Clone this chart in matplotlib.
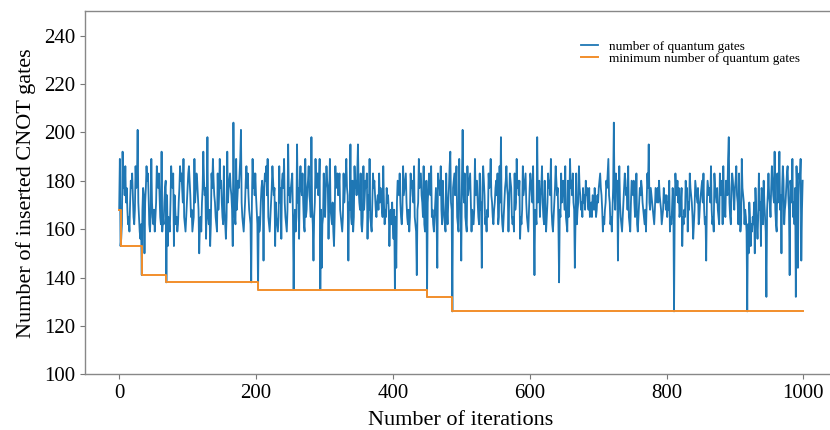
import numpy as np
import matplotlib
matplotlib.use("Agg")
import matplotlib.pyplot as plt

# number of quantum gates per iteration (40 rows x 25)
gates = [
    168, 189, 153, 156, 162, 192, 177, 183, 174, 186, 171, 177, 168, 162, 165, 159, 171, 180, 177, 183, 174, 165, 162, 168, 186,
    177, 180, 201, 171, 165, 159, 156, 162, 141, 168, 177, 174, 150, 171, 177, 186, 180, 183, 174, 162, 159, 165, 189, 171, 165,
    162, 168, 159, 165, 171, 186, 180, 177, 183, 174, 165, 162, 192, 159, 165, 162, 171, 177, 180, 138, 174, 153, 165, 162, 159,
    171, 186, 180, 177, 183, 153, 174, 168, 162, 165, 159, 162, 171, 177, 186, 180, 183, 177, 171, 189, 165, 162, 159, 165, 171,
    177, 183, 186, 180, 174, 165, 168, 159, 162, 165, 189, 171, 177, 183, 180, 174, 168, 150, 162, 165, 159, 171, 177, 192, 180,
    174, 177, 156, 171, 198, 165, 162, 168, 153, 162, 183, 177, 189, 180, 174, 171, 165, 162, 159, 183, 168, 174, 189, 177, 180,
    171, 165, 162, 186, 168, 162, 156, 165, 192, 171, 177, 180, 183, 177, 174, 168, 153, 204, 171, 165, 162, 189, 168, 174, 180,
    177, 183, 189, 201, 171, 165, 162, 159, 165, 171, 180, 186, 177, 183, 174, 168, 165, 162, 138, 171, 189, 177, 183, 174, 183,
    174, 168, 162, 135, 165, 159, 162, 171, 177, 180, 174, 147, 177, 183, 180, 186, 174, 189, 165, 162, 159, 165, 171, 177, 186,
    180, 174, 177, 153, 171, 165, 162, 159, 165, 186, 171, 177, 156, 180, 183, 177, 189, 171, 165, 162, 159, 168, 195, 174, 177,
    171, 177, 180, 183, 165, 135, 162, 168, 159, 165, 195, 171, 177, 156, 180, 186, 177, 174, 183, 171, 162, 159, 189, 165, 168,
    177, 180, 186, 174, 171, 165, 198, 168, 162, 147, 165, 171, 189, 177, 180, 183, 174, 177, 189, 135, 168, 144, 162, 165, 183,
    171, 165, 177, 186, 180, 177, 156, 174, 189, 168, 165, 162, 171, 159, 153, 165, 186, 177, 180, 183, 174, 177, 183, 168, 165,
    162, 159, 165, 183, 171, 177, 180, 189, 177, 174, 147, 171, 168, 195, 165, 162, 180, 159, 165, 186, 177, 180, 174, 183, 195,
    177, 171, 168, 183, 162, 159, 165, 186, 168, 174, 180, 177, 183, 156, 174, 168, 189, 165, 162, 159, 171, 183, 177, 180, 174,
    168, 165, 171, 174, 168, 183, 171, 177, 174, 168, 165, 186, 171, 162, 168, 165, 177, 171, 174, 168, 153, 165, 168, 162, 171,
    162, 156, 168, 135, 165, 144, 171, 180, 177, 174, 183, 171, 165, 162, 168, 186, 174, 177, 180, 183, 171, 165, 162, 168, 159,
    165, 183, 177, 180, 174, 171, 186, 165, 162, 159, 141, 168, 171, 189, 177, 180, 183, 174, 171, 165, 186, 162, 159, 165, 180,
    132, 171, 177, 183, 180, 174, 186, 165, 168, 162, 159, 165, 171, 177, 162, 144, 183, 177, 180, 174, 186, 168, 162, 180, 171,
    165, 162, 159, 183, 168, 162, 171, 177, 186, 192, 171, 168, 126, 177, 180, 183, 174, 177, 186, 165, 162, 159, 189, 171, 168,
    147, 180, 201, 177, 171, 183, 165, 162, 159, 186, 174, 177, 180, 183, 171, 159, 168, 165, 162, 168, 189, 174, 177, 180, 171,
    165, 162, 183, 168, 171, 144, 177, 186, 180, 174, 162, 165, 159, 168, 165, 183, 177, 180, 189, 174, 171, 165, 162, 168, 171,
    177, 180, 174, 183, 162, 165, 186, 171, 198, 168, 162, 159, 165, 171, 177, 180, 186, 177, 174, 159, 171, 183, 180, 177, 165,
    162, 165, 159, 183, 168, 171, 189, 177, 180, 174, 180, 156, 165, 162, 168, 186, 174, 177, 180, 183, 171, 165, 162, 159, 168,
    177, 183, 180, 174, 171, 186, 165, 141, 168, 165, 162, 198, 171, 177, 180, 165, 174, 177, 186, 171, 165, 162, 180, 168, 159,
    165, 171, 183, 177, 180, 174, 189, 168, 162, 159, 165, 171, 177, 186, 180, 174, 177, 162, 138, 168, 165, 183, 171, 177, 180,
    174, 168, 186, 165, 162, 159, 180, 165, 171, 189, 177, 180, 174, 183, 171, 168, 144, 165, 183, 162, 168, 171, 186, 177, 174,
    168, 171, 165, 177, 171, 174, 168, 180, 174, 177, 171, 168, 177, 165, 168, 171, 165, 174, 171, 168, 177, 171, 165, 168, 174,
    171, 177, 180, 183, 177, 174, 168, 159, 165, 162, 168, 171, 180, 177, 183, 189, 174, 171, 162, 165, 159, 168, 177, 204, 174,
    168, 183, 177, 180, 147, 174, 186, 171, 165, 162, 159, 165, 171, 177, 183, 180, 174, 177, 168, 186, 165, 162, 159, 171, 180,
    177, 174, 180, 171, 165, 168, 183, 162, 159, 165, 171, 177, 174, 180, 177, 171, 168, 165, 162, 168, 159, 171, 183, 177, 195,
    171, 168, 177, 174, 171, 168, 165, 162, 168, 177, 174, 171, 177, 171, 180, 174, 171, 168, 162, 165, 168, 177, 171, 174, 168,
    174, 165, 171, 168, 180, 159, 165, 162, 168, 177, 171, 126, 168, 183, 177, 174, 180, 171, 177, 165, 168, 171, 177, 153, 165,
    162, 168, 165, 180, 174, 177, 159, 171, 168, 183, 177, 174, 171, 165, 156, 162, 168, 180, 177, 174, 171, 177, 162, 165, 171,
    174, 177, 180, 171, 183, 168, 162, 165, 147, 171, 180, 177, 174, 177, 171, 186, 168, 162, 165, 159, 183, 177, 174, 171, 177,
    168, 165, 162, 183, 174, 177, 180, 162, 186, 171, 168, 165, 180, 177, 174, 189, 198, 171, 165, 162, 177, 183, 180, 174, 168,
    177, 180, 186, 174, 171, 162, 183, 165, 159, 162, 189, 177, 174, 171, 162, 168, 165, 159, 126, 162, 150, 171, 165, 153, 162,
    159, 165, 162, 171, 150, 177, 168, 162, 156, 165, 183, 168, 171, 153, 177, 174, 162, 180, 171, 165, 159, 132, 168, 174, 183,
    174, 171, 165, 177, 186, 180, 174, 171, 192, 168, 162, 159, 183, 171, 177, 192, 168, 174, 150, 177, 186, 180, 162, 168, 171,
    177, 183, 186, 174, 168, 141, 180, 177, 171, 189, 165, 171, 162, 177, 132, 186, 177, 144, 174, 183, 180, 189, 147, 168, 180,
]
iterations = np.arange(len(gates))

# running minimum: iteration where each new minimum appears, and its value
min_iters = [0, 2, 33, 69, 203, 450, 487, 999]
min_gates = [168, 153, 141, 138, 135, 132, 126, 126]

plt.rcParams['font.family'] = ['Liberation Serif', 'DejaVu Serif']

fig = plt.figure(figsize=(8.3, 4.3), dpi=100)
ax = fig.add_axes([0.1024, 0.1295, 0.9058, 0.8442])

ax.plot(iterations, gates, color='#1f77b4', linewidth=1.3,
        label='number of quantum gates')
ax.step(min_iters, min_gates, where='post', color='#f28e2b', linewidth=1.4,
        label='minimum number of quantum gates')

ax.set_xlim(-49.95, 1048.9)
ax.set_ylim(100, 250)
ax.set_xticks([0, 200, 400, 600, 800, 1000])
ax.set_yticks([100, 120, 140, 160, 180, 200, 220, 240])
ax.tick_params(labelsize=15, length=3.5, width=0.8, color='#777777')

for side in ['left', 'bottom', 'top']:
    ax.spines[side].set_color('#888888')
    ax.spines[side].set_linewidth(1.0)
ax.spines['right'].set_visible(False)

ax.set_xlabel('Number of iterations', fontsize=16, labelpad=6)
ax.set_ylabel('Number of inserted CNOT gates', fontsize=16, labelpad=6)

ax.legend(loc='upper left', bbox_to_anchor=(0.6595, 0.92), frameon=False,
          fontsize=9.5, borderpad=0, borderaxespad=0, labelspacing=0.0,
          handlelength=1.3, handletextpad=0.8)

fig.savefig('out.png', dpi=100)
